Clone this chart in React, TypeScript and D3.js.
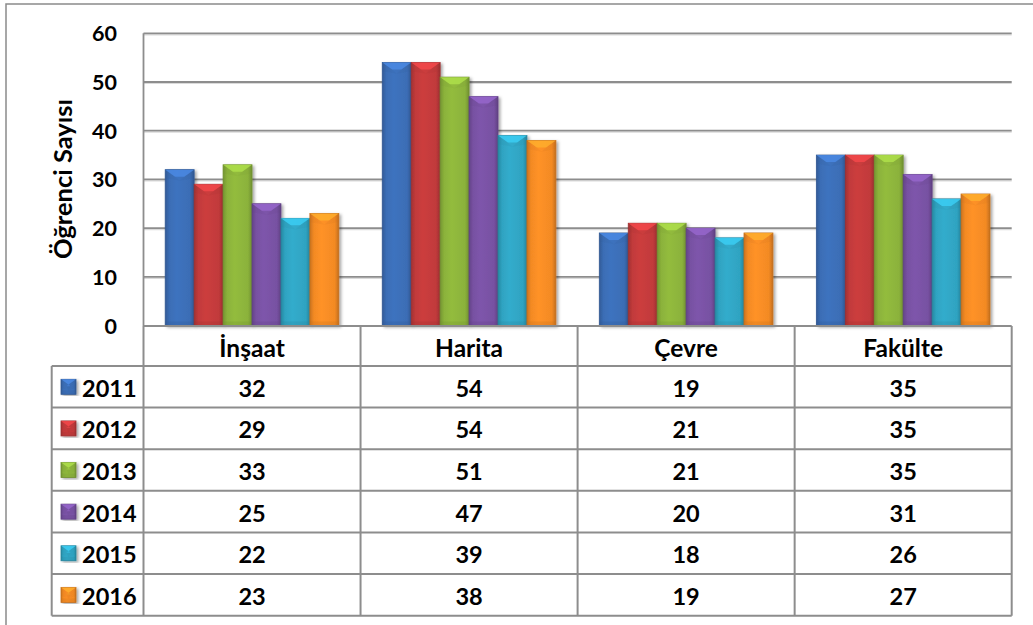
import React from "react";
import * as d3 from "d3";

// Student counts per department, one array per year
const categories = ["İnşaat", "Harita", "Çevre", "Fakülte"];
const years = ["2011", "2012", "2013", "2014", "2015", "2016"];
const v2011 = [32, 54, 19, 35];
const v2012 = [29, 54, 21, 35];
const v2013 = [33, 51, 21, 35];
const v2014 = [25, 47, 20, 31];
const v2015 = [22, 39, 18, 26];
const v2016 = [23, 38, 19, 27];
const seriesValues = [v2011, v2012, v2013, v2014, v2015, v2016];
const yTicks = [0, 10, 20, 30, 40, 50, 60];
const yTitle = "Öğrenci Sayısı";

const colors = ["#3b6db5", "#c13a3b", "#8bb23b", "#7751a2", "#2fa3c1", "#f38a24"];

const W = 1033;
const H = 625;
const FONT = "Lato, 'Open Sans', sans-serif";
const GRID = "#8d8d8d";

export default function App() {
  const plotLeft = 143.5;
  const plotRight = 1011.7;
  const y = d3.scaleLinear().domain([0, 60]).range([325.5, 33.3]);
  const x = d3.scaleBand<string>().domain(categories).range([plotLeft, plotRight]).padding(0);
  const bw = x.bandwidth();
  const barW = bw / 7.5; // gap width 150%
  const inner = d3
    .scaleBand<string>()
    .domain(years)
    .range([barW * 0.75, bw - barW * 0.75])
    .padding(0);

  const headerTop = 326;
  const headerBottom = 366;
  const rowH = (615.7 - headerBottom) / years.length;
  const legendLeft = 51.7;
  const boundaries = [plotLeft, ...categories.map((c) => (x(c) as number) + bw)];

  const bevelBar = (bx: number, by: number, w: number, h: number, i: number, key: string) => {
    const bv = Math.min(7, h / 2);
    const light = d3.color(colors[i])!.brighter(0.7).formatHex();
    const dark = d3.color(colors[i])!.darker(0.6).formatHex();
    return (
      <g key={key}>
        <rect x={bx} y={by} width={w} height={h} fill={`url(#g${i})`} stroke={dark} strokeWidth={0.8} filter="url(#shadow)" />
        <polygon
          points={`${bx},${by} ${bx + w},${by} ${bx + w - bv * 1.4},${by + bv} ${bx + bv * 1.4},${by + bv}`}
          fill={light}
          opacity={0.75}
        />
        <polygon
          points={`${bx},${by} ${bx + bv * 1.4},${by + bv} ${bx + w / 2},${by + bv * 1.6} ${bx},${by + bv * 1.2}`}
          fill={dark}
          opacity={0.12}
        />
        <polygon
          points={`${bx + w},${by} ${bx + w - bv * 1.4},${by + bv} ${bx + w / 2},${by + bv * 1.6} ${bx + w},${by + bv * 1.2}`}
          fill={dark}
          opacity={0.12}
        />
        <rect x={bx} y={by + h - Math.min(4, h / 3)} width={w} height={Math.min(4, h / 3)} fill={dark} opacity={0.25} />
      </g>
    );
  };

  return (
    <svg
      width={W}
      height={H}
      style={{ position: "absolute", left: 0, top: 0, background: "#fff" }}
      fontFamily={FONT}
    >
      <defs>
        {colors.map((c, i) => {
          const base = d3.color(c)!;
          return (
            <linearGradient id={`g${i}`} key={i} x1="0" x2="1" y1="0" y2="0">
              <stop offset="0%" stopColor={base.darker(0.5).formatHex()} />
              <stop offset="14%" stopColor={base.formatHex()} />
              <stop offset="40%" stopColor={base.brighter(0.15).formatHex()} />
              <stop offset="86%" stopColor={base.formatHex()} />
              <stop offset="100%" stopColor={base.darker(0.6).formatHex()} />
            </linearGradient>
          );
        })}
        <filter id="shadow" x="-20%" y="-5%" width="150%" height="115%">
          <feDropShadow dx="2" dy="1.5" stdDeviation="1.5" floodColor="#000" floodOpacity="0.35" />
        </filter>
      </defs>

      {/* chart frame */}
      <rect x={6} y={4} width={W} height={H + 20} fill="#fff" stroke="#8a8a8a" strokeWidth={1.5} />

      {/* gridlines */}
      {yTicks
        .filter((t) => t > 0)
        .map((t) => (
          <g key={t}>
            <line x1={plotLeft} x2={plotRight} y1={y(t) + 1.5} y2={y(t) + 1.5} stroke="#dadada" strokeWidth={1.2} />
            <line x1={plotLeft} x2={plotRight} y1={y(t)} y2={y(t)} stroke={GRID} strokeWidth={1.8} />
          </g>
        ))}
      <line x1={plotLeft} x2={plotLeft} y1={y(60)} y2={headerTop} stroke={GRID} strokeWidth={1.8} />

      {/* y tick labels */}
      {yTicks.map((t) => (
        <text
          key={t}
          x={117}
          y={y(t)}
          textAnchor="end"
          dominantBaseline="central"
          fontSize={21.5}
          fontWeight={700}
          fill="#000"
        >
          {t}
        </text>
      ))}

      {/* y axis title */}
      <text
        transform={`translate(62,179) rotate(-90)`}
        textAnchor="middle"
        dominantBaseline="central"
        fontSize={25.5}
        fontWeight={700}
        fill="#000"
      >
        {yTitle}
      </text>

      {/* bars */}
      {categories.map((c, ci) =>
        years.map((yr, si) => {
          const v = seriesValues[si][ci];
          const bx = (x(c) as number) + (inner(yr) as number);
          const by = y(v);
          return bevelBar(bx, by, inner.bandwidth(), y(0) - by, si, `${c}-${yr}`);
        })
      )}

      {/* data table */}
      <g>
        {/* header row */}
        <line x1={plotLeft} x2={plotRight} y1={headerTop} y2={headerTop} stroke={GRID} strokeWidth={2} />
        {categories.map((c) => (
          <text
            key={c}
            x={(x(c) as number) + bw / 2}
            y={(headerTop + headerBottom) / 2 + 1}
            textAnchor="middle"
            dominantBaseline="central"
            fontSize={24.5}
            fontWeight={700}
            fill="#000"
          >
            {c}
          </text>
        ))}
        {/* horizontal rules */}
        {d3.range(years.length + 1).map((r) => (
          <line
            key={r}
            x1={legendLeft}
            x2={plotRight}
            y1={headerBottom + r * rowH}
            y2={headerBottom + r * rowH}
            stroke={GRID}
            strokeWidth={2}
          />
        ))}
        {/* vertical rules */}
        <line x1={legendLeft} x2={legendLeft} y1={headerBottom} y2={headerBottom + years.length * rowH} stroke={GRID} strokeWidth={2} />
        {boundaries.map((bx, i) => (
          <line key={i} x1={bx} x2={bx} y1={headerTop} y2={headerBottom + years.length * rowH} stroke={GRID} strokeWidth={2} />
        ))}
        {/* rows */}
        {years.map((yr, si) => {
          const cy = headerBottom + si * rowH + rowH / 2;
          return (
            <g key={yr}>
              {bevelBar(61, cy - 7.5, 15, 15, si, `key-${yr}`)}
              <text x={82} y={cy + 1} dominantBaseline="central" fontSize={23.5} fontWeight={700} fill="#000">
                {yr}
              </text>
              {categories.map((c, ci) => (
                <text
                  key={c}
                  x={(x(c) as number) + bw / 2}
                  y={cy + 1}
                  textAnchor="middle"
                  dominantBaseline="central"
                  fontSize={23.5}
                  fontWeight={700}
                  fill="#000"
                >
                  {d3.format("d")(seriesValues[si][ci])}
                </text>
              ))}
            </g>
          );
        })}
      </g>
    </svg>
  );
}
